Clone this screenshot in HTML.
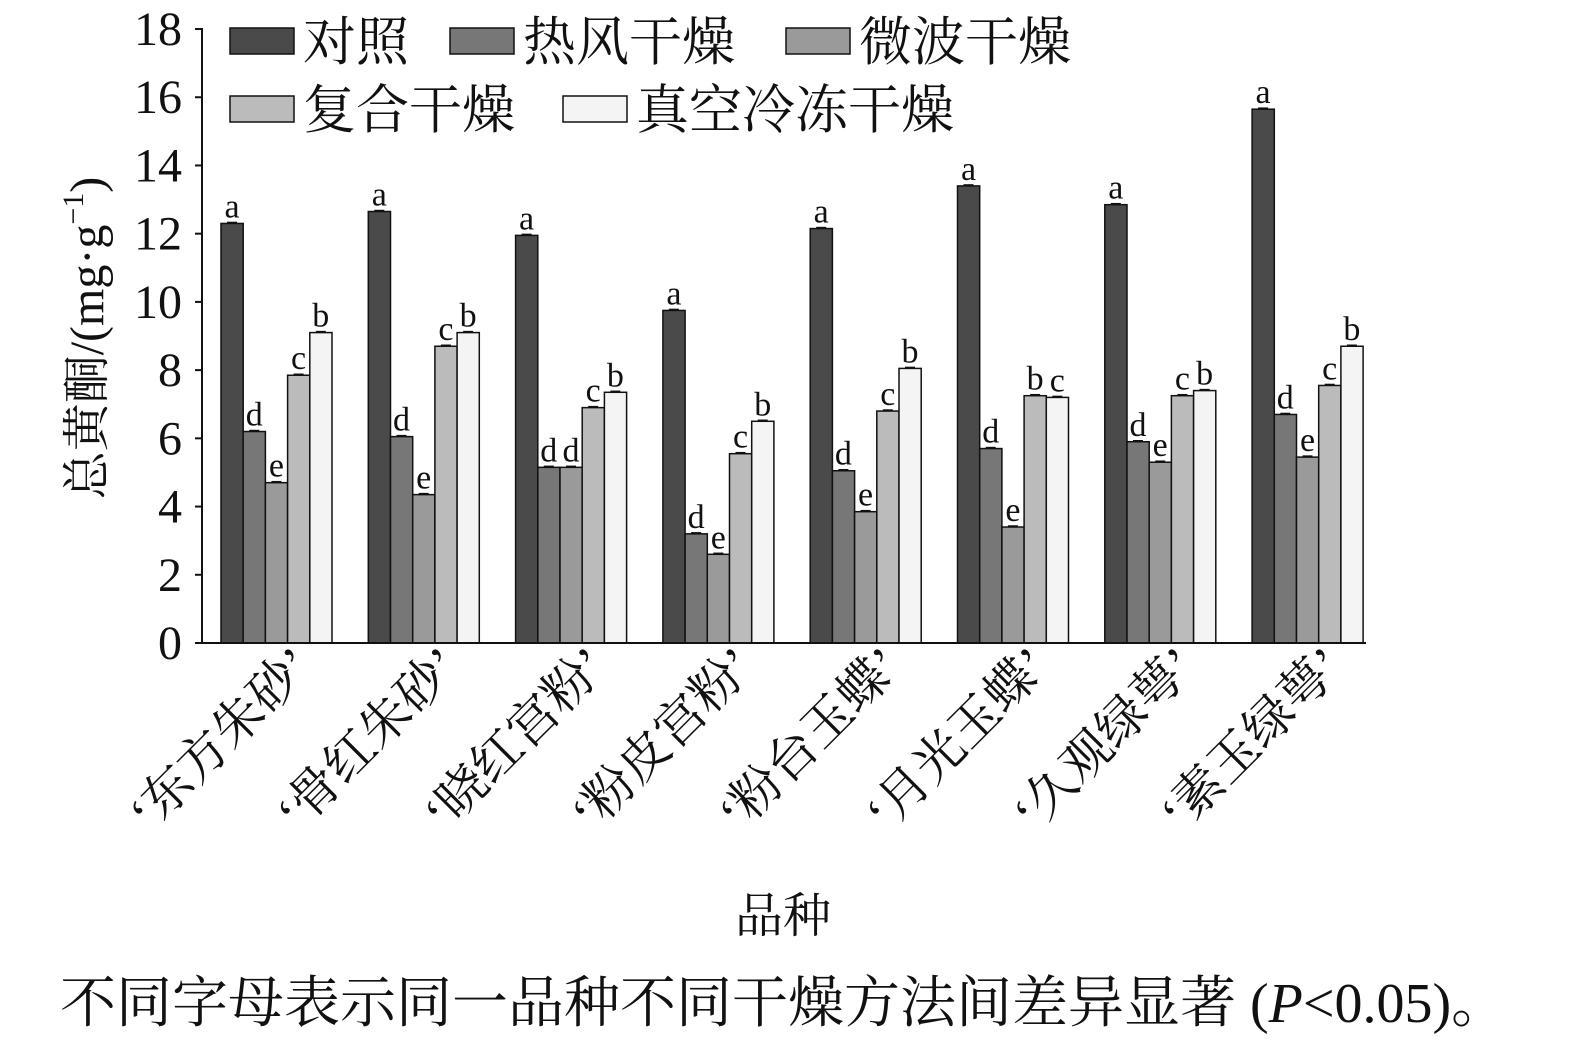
<!DOCTYPE html>
<html><head><meta charset="utf-8"><style>
body{margin:0;background:#fff}
text{font-family:"Liberation Serif","Noto Serif CJK SC",serif;fill:#111}
.cj{font-family:"Liberation Serif","Noto Serif CJK SC",serif}
</style></head><body>
<svg width="1575" height="1045" xmlns="http://www.w3.org/2000/svg">
<g id="bars" stroke="#111" stroke-width="1.5"></g>
<g id="lbl" font-size="34" text-anchor="middle"></g>
<line x1="202" y1="28" x2="202" y2="643" stroke="#111" stroke-width="2"/>
<line x1="202" y1="643" x2="1366" y2="643" stroke="#111" stroke-width="2"/>
<g id="ticks" font-size="48" text-anchor="end"></g>
<g class="cj" font-size="53">
<rect x="230" y="28" width="64" height="26" fill="#4a4a4a" stroke="#111" stroke-width="1.5"/><text x="303" y="60" class="cj">对照</text>
<rect x="450" y="28" width="64" height="26" fill="#777" stroke="#111" stroke-width="1.5"/><text x="523" y="60" class="cj">热风干燥</text>
<rect x="786" y="28" width="64" height="26" fill="#9a9a9a" stroke="#111" stroke-width="1.5"/><text x="859" y="60" class="cj">微波干燥</text>
<rect x="230" y="96" width="64" height="26" fill="#bbb" stroke="#111" stroke-width="1.5"/><text x="303" y="128" class="cj">复合干燥</text>
<rect x="563" y="96" width="64" height="26" fill="#f4f4f4" stroke="#111" stroke-width="1.5"/><text x="636" y="128" class="cj">真空冷冻干燥</text>
</g>
<text transform="translate(103,338) rotate(-90)" text-anchor="middle" font-size="48" class="cj">总黄酮/(mg·g<tspan font-size="30" dy="-20">−1</tspan><tspan dy="20">)</tspan></text>
<g id="xl" font-size="50" text-anchor="end"></g>
<text x="783" y="932" font-size="48" text-anchor="middle" class="cj">品种</text>
<text x="60" y="1022" font-size="56" class="cj">不同字母表示同一品种不同干燥方法间差异显著 (<tspan font-style="italic">P</tspan>&lt;0.05)。</text>
</svg>
<script>
const ns="http://www.w3.org/2000/svg";
const d=[[12.3,6.2,4.7,7.85,9.1,"adecb"],[12.65,6.05,4.35,8.7,9.1,"adecb"],[11.95,5.15,5.15,6.9,7.35,"addcb"],[9.75,3.2,2.6,5.55,6.5,"adecb"],[12.15,5.05,3.85,6.8,8.05,"adecb"],[13.4,5.7,3.4,7.25,7.2,"adebc"],[12.85,5.9,5.3,7.25,7.4,"adecb"],[15.65,6.7,5.45,7.55,8.7,"adecb"]];
const names=["‘东方朱砂’","‘骨红朱砂’","‘晓红宫粉’","‘粉皮宫粉’","‘粉台玉蝶’","‘月光玉蝶’","‘久观绿萼’","‘素玉绿萼’"];
const col=["#4a4a4a","#777","#9a9a9a","#bbb","#f4f4f4"];
const Y=v=>643-v*34.11;
const B=document.getElementById("bars"),L=document.getElementById("lbl"),T=document.getElementById("ticks"),X=document.getElementById("xl");
function el(p,t,a,txt){const e=document.createElementNS(ns,t);for(const k in a)e.setAttribute(k,a[k]);if(txt!==undefined)e.textContent=String(txt);p.appendChild(e);return e;}
d.forEach((g,i)=>{const x0=221+i*147.3;
for(let j=0;j<5;j++){const x=x0+j*22.2,y=Y(g[j]);
el(B,"rect",{x:x,y:y,width:22.2,height:643-y,fill:col[j]});
el(B,"line",{x1:x+6,x2:x+16,y1:y-1,y2:y-1});
el(L,"text",{x:x+11,y:y-6},g[5][j]);}
const cx=x0+70;
el(X,"text",{transform:`translate(${cx+24},${668}) rotate(-45)`,class:"cj"},names[i]);
});
for(let v=0;v<=18;v+=2){const y=Y(v);el(T,"line",{x1:195,x2:202,y1:y,y2:y,stroke:"#111","stroke-width":2});el(T,"text",{x:182,y:y+16},v);}
</script>
</body></html>
